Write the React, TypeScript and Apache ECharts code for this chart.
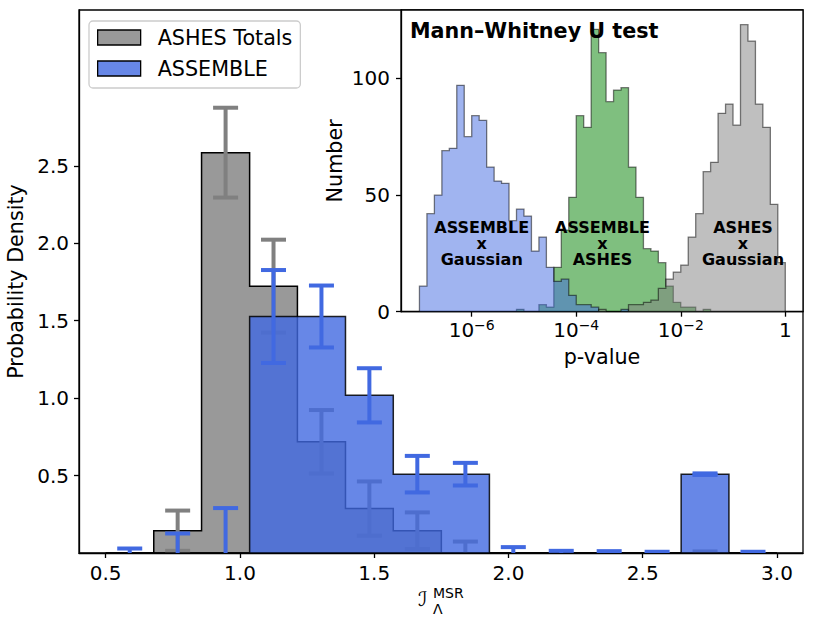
import React, { useEffect, useRef } from "react";
import * as echarts from "echarts";

// ---------- main histogram data ----------
const msrBinEdges = [0.5, 0.679, 0.857, 1.036, 1.214, 1.393, 1.571, 1.75, 1.929, 2.107, 2.286, 2.464, 2.643, 2.821, 3.0];
const ashesDensity = [0, 0.144, 2.585, 1.723, 0.718, 0.287, 0.144, 0, 0, 0, 0, 0, 0, 0];
const ashesError = [0, 0.13, 0.29, 0.3, 0.205, 0.175, 0.118, 0.074, 0, 0, 0, 0, 0.01, 0];
const assembleDensity = [0, 0, 0, 1.527, 1.527, 1.018, 0.509, 0.509, 0, 0, 0, 0, 0.509, 0];
const assembleError = [0.029, 0.126, 0.29, 0.3, 0.2, 0.175, 0.118, 0.073, 0.038, 0.014, 0.012, 0.008, 0.005, 0.008];
const msrTicks = [0.5, 1.0, 1.5, 2.0, 2.5, 3.0];
const densityTicks = [0.5, 1.0, 1.5, 2.0, 2.5];

// ---------- inset (Mann-Whitney U test p-values) ----------
const pBinEdgesLog10 = [
  -7.0, -6.857, -6.714, -6.571, -6.429, -6.286, -6.143, -6.0, -5.857, -5.714,
  -5.571, -5.429, -5.286, -5.143, -5.0, -4.857, -4.714, -4.571, -4.429, -4.286,
  -4.143, -4.0, -3.857, -3.714, -3.571, -3.429, -3.286, -3.143, -3.0, -2.857,
  -2.714, -2.571, -2.429, -2.286, -2.143, -2.0, -1.857, -1.714, -1.571, -1.429,
  -1.286, -1.143, -1.0, -0.857, -0.714, -0.571, -0.429, -0.286, -0.143, 0.0,
];
const assembleVsGaussian = [
  11, 42, 50, 69, 70, 97, 75, 84, 82, 62,
  56, 55, 39, 44, 41, 26, 32, 19, 13, 14,
  7, 3, 3, 2, 0, 0, 0, 1, 0, 0,
  0, 0, 0, 0, 0, 0, 0, 0, 0, 0,
  0, 0, 0, 0, 0, 0, 0, 0, 0,
];
const assembleVsAshes = [
  0, 0, 0, 0, 0, 0, 0, 0, 0, 0,
  0, 0, 0, 1, 0, 0, 3, 2, 19, 35,
  49, 84, 79, 121, 111, 90, 95, 96, 62, 49,
  27, 26, 21, 11, 4, 2, 2, 0, 1, 0,
  0, 0, 0, 0, 0, 0, 0, 0, 0,
];
const ashesVsGaussian = [
  0, 0, 0, 0, 0, 0, 0, 0, 0, 0,
  0, 0, 0, 0, 0, 0, 0, 0, 0, 0,
  0, 0, 0, 0, 1, 0, 0, 0, 3, 3,
  4, 5, 10, 14, 17, 20, 32, 42, 60, 64,
  85, 89, 80, 123, 116, 89, 79, 46, 21,
];
const pTicksLog10 = [-6, -4, -2, 0];
const numberTicks = [0, 50, 100];
const annotationX = [-5.808, -3.497, -0.809];
const annotationY = [29.2, 29.2, 29.2];
const annotationText = ["ASSEMBLE\nx\nGaussian", "ASSEMBLE\nx\nASHES", "ASHES\nx\nGaussian"];

const FONT = '"DejaVu Sans", "Liberation Sans", sans-serif';

function stepRender(edges: number[], heights: number[], fill: string, stroke: string, lw: number) {
  return (_params: any, api: any) => {
    const pts: number[][] = [];
    pts.push(api.coord([edges[0], 0]));
    heights.forEach((h, i) => {
      pts.push(api.coord([edges[i], h]));
      pts.push(api.coord([edges[i + 1], h]));
    });
    pts.push(api.coord([edges[edges.length - 1], 0]));
    return {
      type: "polygon",
      shape: { points: pts },
      style: { fill, stroke, lineWidth: lw, lineJoin: "miter" },
    };
  };
}

function errRender(color: string) {
  return (_params: any, api: any) => {
    const c = api.value(0);
    const v = api.value(1);
    const e = api.value(2);
    if (!(e > 0)) return null;
    const top = api.coord([c, v + e]);
    const bot = api.coord([c, v - e]);
    const hw = 12.5;
    const st = { stroke: color, lineWidth: 4 };
    return {
      type: "group",
      children: [
        { type: "line", shape: { x1: top[0], y1: top[1], x2: bot[0], y2: bot[1] }, style: st },
        { type: "line", shape: { x1: top[0] - hw, y1: top[1], x2: top[0] + hw, y2: top[1] }, style: st },
        { type: "line", shape: { x1: bot[0] - hw, y1: bot[1], x2: bot[0] + hw, y2: bot[1] }, style: st },
      ],
    };
  };
}

const centers = msrBinEdges.slice(0, -1).map((e, i) => (e + msrBinEdges[i + 1]) / 2);

export default function App() {
  const ref = useRef<HTMLDivElement>(null);
  useEffect(() => {
    if (!ref.current) return;
    const chart = echarts.init(ref.current, null, { renderer: "svg" });
    const axisLine = { show: true, onZero: false, lineStyle: { color: "#000", width: 1.3 } };
    const tickStyle = { color: "#000", width: 1.3 };
    const option: any = {
      animation: false,
      backgroundColor: "#fff",
      textStyle: { fontFamily: FONT },
      grid: [
        { left: 79, top: 10, width: 724, height: 543, show: true, borderColor: "#000", borderWidth: 1.3, backgroundColor: "#fff", containLabel: false, outerBoundsMode: "none" },
        { left: 401, top: 10, width: 402, height: 301.7, show: true, borderColor: "#000", borderWidth: 1.3, backgroundColor: "#fff", containLabel: false, outerBoundsMode: "none" },
      ],
      legend: {
        left: 89,
        top: 21,
        orient: "vertical",
        selectedMode: false,
        itemWidth: 43,
        itemHeight: 15,
        itemGap: 10,
        padding: [6, 8, 9, 8],
        backgroundColor: "rgba(255,255,255,0.8)",
        borderColor: "#cccccc",
        borderWidth: 1.3,
        borderRadius: 4,
        icon: "rect",
        textStyle: { fontSize: 20.7, color: "#000", fontFamily: FONT, lineHeight: 21, padding: [0, 0, 0, 12] },
        data: [
          { name: "ASHES Totals", itemStyle: { color: "rgba(128,128,128,0.8)", borderColor: "#000", borderWidth: 1.3 } },
          { name: "ASSEMBLE", itemStyle: { color: "rgba(65,105,225,0.8)", borderColor: "#000", borderWidth: 1.3 } },
        ],
      },
      xAxis: [
        {
          gridIndex: 0,
          type: "value",
          min: 0.4006,
          max: 3.0968,
          axisLine,
          axisTick: { show: true, length: 5, customValues: msrTicks, lineStyle: tickStyle },
          axisLabel: { customValues: msrTicks, formatter: (v: number) => v.toFixed(1), fontSize: 20, color: "#000", margin: 10, fontFamily: FONT },
          splitLine: { show: false },
        },
        {
          gridIndex: 1,
          type: "value",
          min: -7.353,
          max: 0.339,
          name: "p-value",
          nameLocation: "middle",
          nameGap: 35,
          nameTextStyle: { fontSize: 20.7, color: "#000", fontFamily: FONT },
          axisLine,
          axisTick: { show: true, length: 5, customValues: pTicksLog10, lineStyle: tickStyle },
          axisLabel: {
            customValues: pTicksLog10,
            margin: 6,
            formatter: (v: number) => (v === 0 ? "{b|1}" : "{b|10}{s|\u2212" + Math.abs(v) + "}"),
            rich: {
              b: { fontSize: 20, lineHeight: 24, color: "#000", fontFamily: FONT },
              s: { fontSize: 14, lineHeight: 14, verticalAlign: "top", color: "#000", fontFamily: FONT },
            },
          },
          splitLine: { show: false },
        },
      ],
      yAxis: [
        {
          gridIndex: 0,
          type: "value",
          min: 0,
          max: 3.506,
          name: "Probability Density",
          nameLocation: "middle",
          nameRotate: 90,
          nameGap: 47,
          nameTextStyle: { fontSize: 20.7, color: "#000", fontFamily: FONT },
          axisLine,
          axisTick: { show: true, length: 5, customValues: densityTicks, lineStyle: tickStyle },
          axisLabel: { customValues: densityTicks, formatter: (v: number) => v.toFixed(1), fontSize: 20, color: "#000", margin: 10, fontFamily: FONT },
          splitLine: { show: false },
        },
        {
          gridIndex: 1,
          type: "value",
          position: "left",
          min: 0,
          max: 129.3,
          name: "Number",
          nameLocation: "middle",
          nameRotate: 90,
          nameGap: 56,
          nameTextStyle: { fontSize: 20.7, color: "#000", fontFamily: FONT },
          axisLine,
          axisTick: { show: true, length: 5, customValues: numberTicks, lineStyle: tickStyle },
          axisLabel: { customValues: numberTicks, fontSize: 20, color: "#000", margin: 11, fontFamily: FONT },
          splitLine: { show: false },
        },
      ],
      series: [
        {
          name: "ASHES Totals",
          type: "custom",
          xAxisIndex: 0,
          yAxisIndex: 0,
          clip: true,
          itemStyle: { color: "rgba(128,128,128,0.8)" },
          data: [[msrBinEdges[0], 0]],
          renderItem: stepRender(msrBinEdges, ashesDensity, "rgba(128,128,128,0.8)", "#000", 1.5),
        },
        {
          name: "ASHES err",
          type: "custom",
          xAxisIndex: 0,
          yAxisIndex: 0,
          clip: true,
          dimensions: ["x", "y", "err"],
          encode: { x: 0, y: 1 },
          data: centers.map((c, i) => [c, ashesDensity[i], ashesError[i]]),
          renderItem: errRender("#808080"),
        },
        {
          name: "ASSEMBLE",
          type: "custom",
          xAxisIndex: 0,
          yAxisIndex: 0,
          clip: true,
          itemStyle: { color: "rgba(65,105,225,0.8)" },
          data: [[msrBinEdges[0], 0]],
          renderItem: stepRender(msrBinEdges, assembleDensity, "rgba(65,105,225,0.8)", "rgba(0,0,0,0.85)", 1.5),
        },
        {
          name: "ASSEMBLE err",
          type: "custom",
          xAxisIndex: 0,
          yAxisIndex: 0,
          clip: true,
          dimensions: ["x", "y", "err"],
          encode: { x: 0, y: 1 },
          data: centers.map((c, i) => [c, assembleDensity[i], assembleError[i]]),
          renderItem: errRender("#4169E1"),
        },
        {
          name: "ASSEMBLE x ASHES",
          type: "custom",
          xAxisIndex: 1,
          yAxisIndex: 1,
          clip: true,
          data: [[pBinEdgesLog10[0], 0]],
          renderItem: stepRender(pBinEdgesLog10, assembleVsAshes, "rgba(0,128,0,0.5)", "rgba(0,0,0,0.5)", 1.3),
        },
        {
          name: "ASSEMBLE x Gaussian",
          type: "custom",
          xAxisIndex: 1,
          yAxisIndex: 1,
          clip: true,
          data: [[pBinEdgesLog10[0], 0]],
          renderItem: stepRender(pBinEdgesLog10, assembleVsGaussian, "rgba(65,105,225,0.5)", "rgba(0,0,0,0.5)", 1.3),
        },
        {
          name: "ASHES x Gaussian",
          type: "custom",
          xAxisIndex: 1,
          yAxisIndex: 1,
          clip: true,
          data: [[pBinEdgesLog10[0], 0]],
          renderItem: stepRender(pBinEdgesLog10, ashesVsGaussian, "rgba(128,128,128,0.5)", "rgba(0,0,0,0.5)", 1.3),
        },
        {
          name: "annotations",
          type: "custom",
          xAxisIndex: 1,
          yAxisIndex: 1,
          z: 10,
          data: annotationX.map((x, i) => [x, annotationY[i], i]),
          renderItem: (_p: any, api: any) => {
            const pt = api.coord([api.value(0), api.value(1)]);
            const idx = api.value(2);
            return {
              type: "text",
              x: pt[0],
              y: pt[1],
              style: {
                text: annotationText[idx],
                fill: "#000",
                fontSize: 16,
                fontWeight: "bold",
                fontFamily: FONT,
                align: "center",
                verticalAlign: "middle",
                lineHeight: 16,
              },
            };
          },
        },
      ],
      graphic: [
        {
          type: "text",
          x: 410,
          y: 31,
          z: 100,
          style: { text: "Mann\u2013Whitney U test", fill: "#000", fontSize: 20.7, fontWeight: "bold", fontFamily: FONT, align: "left", verticalAlign: "middle", textAlign: "left", textVerticalAlign: "middle" },
        },
        {
          type: "text",
          x: 418,
          y: 599,
          z: 100,
          style: { text: "\u2110", fill: "#000", fontSize: 20, fontFamily: FONT, align: "left", verticalAlign: "middle", textAlign: "left", textVerticalAlign: "middle" },
        },
        {
          type: "text",
          x: 433,
          y: 609,
          z: 100,
          style: { text: "\u039b", fill: "#000", fontSize: 14, fontFamily: FONT, align: "left", verticalAlign: "middle", textAlign: "left", textVerticalAlign: "middle" },
        },
        {
          type: "text",
          x: 433,
          y: 593,
          z: 100,
          style: { text: "MSR", fill: "#000", fontSize: 14, fontFamily: FONT, align: "left", verticalAlign: "middle", textAlign: "left", textVerticalAlign: "middle" },
        },
      ],
    };
    chart.setOption(option);
    return () => chart.dispose();
  }, []);
  return <div ref={ref} style={{ position: "fixed", left: 0, top: 0, width: 814, height: 626 }} />;
}
